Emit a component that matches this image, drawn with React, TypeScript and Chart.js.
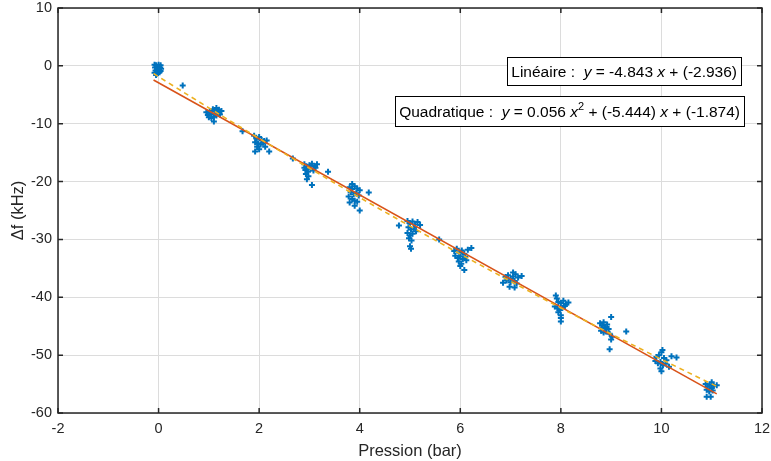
import React, { useEffect, useRef } from "react";
import { Chart, registerables } from "chart.js";

Chart.register(...registerables);

// Measured points (pressure in bar, frequency shift in kHz)
const pressureX: number[] = [
  // ~0 bar
  -0.08, -0.05, 0.0, 0.04, -0.07, -0.02, 0.03, -0.06, 0.0, 0.04, -0.08, -0.03, 0.02, -0.05, 0.05, 0.48,
  // ~1 bar
  0.95, 0.98, 1.02, 1.05, 1.08, 1.1, 1.12, 1.15, 1.18, 1.2, 1.22, 1.25, 1.05, 1.1, 1.0, 1.15, 1.67,
  // ~2 bar
  1.9, 1.95, 2.0, 2.05, 2.1, 2.15, 1.92, 1.98, 2.03, 2.08, 2.12, 1.96, 2.0, 1.92, 2.2,
  // ~3 bar
  2.9, 2.95, 3.0, 3.05, 3.1, 3.15, 2.92, 2.97, 3.02, 3.08, 2.93, 2.98, 2.95, 3.05, 3.12, 2.9, 3.37, 2.67,
  // ~4 bar
  3.8, 3.85, 3.9, 3.95, 4.0, 3.82, 3.88, 3.93, 3.98, 3.78, 3.85, 3.9, 3.8, 3.95, 3.9, 4.0, 3.85, 4.18, 4.78,
  // ~5 bar
  4.95, 5.0, 5.05, 5.1, 5.15, 5.2, 4.97, 5.02, 5.08, 5.12, 4.95, 5.0, 5.05, 4.98, 5.03, 5.0, 5.02, 5.58,
  // ~6 bar
  5.88, 5.93, 5.98, 6.03, 6.08, 6.15, 6.22, 5.9, 5.95, 6.0, 6.05, 6.1, 5.97, 6.02, 6.0, 6.08, 6.12,
  // ~7 bar
  6.9, 6.95, 7.0, 7.05, 7.1, 7.15, 7.22, 6.85, 6.92, 7.0, 7.08, 7.12, 6.98, 7.08, 7.05,
  // ~8 bar
  7.92, 7.95, 8.0, 8.05, 8.1, 8.15, 7.88, 7.93, 7.98, 8.03, 8.08, 7.95, 8.0, 8.0, 8.0, 7.9,
  // ~9 bar
  8.78, 8.82, 8.85, 8.88, 8.92, 8.95, 8.8, 8.85, 8.9, 8.97, 9.0, 9.02, 9.0, 8.97, 8.82, 9.3,
  // ~10 bar
  9.9, 9.95, 10.0, 10.02, 10.05, 10.1, 9.88, 9.93, 9.98, 10.03, 10.08, 10.2, 10.15, 9.98, 10.0, 10.3,
  // ~11 bar
  10.88, 10.92, 10.96, 11.0, 11.04, 11.1, 10.9, 10.95, 11.02, 10.9, 10.98, 11.0,
];

const deltaF: number[] = [
  0.2, 0.1, 0.2, 0.1, -0.3, -0.4, -0.3, -0.8, -0.7, -0.9, -1.2, -1.3, -1.1, -1.6, -0.5, -3.4,
  -8.0, -8.5, -7.8, -8.3, -7.5, -8.8, -7.9, -7.3, -8.1, -7.6, -8.4, -7.8, -9.0, -9.6, -8.9, -8.6, -11.3,
  -12.1, -12.6, -12.3, -12.8, -13.0, -12.9, -13.2, -13.4, -13.6, -13.3, -14.0, -14.0, -14.4, -14.8, -14.8,
  -17.0, -17.5, -17.2, -16.9, -17.3, -17.0, -18.0, -18.3, -17.8, -18.1, -18.7, -19.1, -19.6, -20.6, -17.6, -17.6, -18.3, -16.0,
  -21.0, -21.3, -20.8, -21.2, -21.5, -21.8, -22.2, -22.0, -22.4, -22.6, -23.0, -23.3, -23.6, -23.5, -24.2, -25.0, -20.4, -21.9, -27.6,
  -26.8, -27.2, -26.9, -27.4, -27.0, -27.5, -27.9, -28.3, -28.0, -28.6, -28.9, -29.3, -29.0, -29.8, -30.2, -31.2, -31.6, -30.0,
  -32.0, -31.6, -32.3, -31.9, -32.5, -31.8, -31.5, -32.8, -33.2, -32.9, -33.4, -33.0, -33.8, -34.2, -34.6, -35.3, -33.6,
  -36.5, -36.2, -36.8, -36.4, -36.0, -36.6, -36.3, -37.5, -37.1, -37.4, -37.2, -37.6, -38.2, -38.3, -35.7,
  -40.2, -40.8, -41.0, -40.6, -41.2, -40.9, -41.6, -41.9, -42.2, -41.8, -41.5, -42.6, -43.1, -43.6, -44.2, -39.7,
  -44.5, -44.9, -44.3, -45.2, -44.7, -45.5, -45.8, -46.1, -45.9, -46.3, -43.4, -46.8, -47.3, -49.0, -45.3, -45.9,
  -50.3, -50.0, -49.5, -49.1, -50.5, -50.9, -51.0, -51.4, -51.2, -51.7, -51.5, -50.2, -52.0, -52.3, -52.8, -50.4,
  -55.0, -55.4, -55.1, -55.7, -55.3, -55.2, -56.0, -56.3, -56.1, -57.2, -57.2, -54.7,
];

// Linear fit endpoints
const linearX: number[] = [-0.1, 11.1];
const linearY: number[] = [-2.452, -56.693];

// Quadratic fit samples
const quadX: number[] = [-0.1, 0, 1, 2, 3, 4, 5, 6, 7, 8, 9, 10, 11.1];
const quadY: number[] = [-1.329, -1.874, -7.262, -12.538, -17.702, -22.754, -27.694, -32.522, -37.238, -41.842, -46.334, -50.714, -55.402];

const xTicks: number[] = [-2, 0, 2, 4, 6, 8, 10, 12];
const yTicks: number[] = [10, 0, -10, -20, -30, -40, -50, -60];

const linearLabel = [
  { t: "Linéaire :  ", s: "n" },
  { t: "y", s: "i" },
  { t: " = -4.843 ", s: "n" },
  { t: "x", s: "i" },
  { t: " + (-2.936)", s: "n" },
];
const quadLabel = [
  { t: "Quadratique :  ", s: "n" },
  { t: "y", s: "i" },
  { t: " = 0.056 ", s: "n" },
  { t: "x", s: "i" },
  { t: "2", s: "sup" },
  { t: " + (-5.444) ", s: "n" },
  { t: "x", s: "i" },
  { t: " + (-1.874)", s: "n" },
];

const FONT = "'Liberation Sans', Arial, Helvetica, sans-serif";
const DARK = "#262626";

function drawLabelBox(ctx: CanvasRenderingContext2D, segs: { t: string; s: string }[], right: number, top: number, h: number) {
  const size = 15.5;
  const fontFor = (s: string) =>
    s === "i" ? `italic ${size}px ${FONT}` : s === "sup" ? `${Math.round(size * 0.72)}px ${FONT}` : `${size}px ${FONT}`;
  let w = 0;
  for (const sg of segs) {
    ctx.font = fontFor(sg.s);
    w += ctx.measureText(sg.t).width;
  }
  const padX = 4;
  const boxW = w + padX * 2;
  const left = right - boxW;
  ctx.save();
  ctx.fillStyle = "#ffffff";
  ctx.fillRect(left, top, boxW, h);
  ctx.strokeStyle = "#000000";
  ctx.lineWidth = 1;
  ctx.strokeRect(Math.round(left) + 0.5, Math.round(top) + 0.5, Math.round(boxW), h);
  ctx.fillStyle = "#000000";
  ctx.textBaseline = "alphabetic";
  ctx.textAlign = "left";
  let x = left + padX;
  const base = top + h / 2 + 5.5;
  for (const sg of segs) {
    ctx.font = fontFor(sg.s);
    const y = sg.s === "sup" ? base - 7 : base;
    ctx.fillText(sg.t, x, y);
    x += ctx.measureText(sg.t).width;
  }
  ctx.restore();
}

const framePlugin = {
  id: "frameAndLabels",
  afterDraw(chart: any) {
    const { ctx, chartArea, scales } = chart;
    const { left, right, top, bottom } = chartArea;
    ctx.save();
    ctx.strokeStyle = DARK;
    ctx.lineWidth = 1.5;
    ctx.strokeRect(left, top, right - left, bottom - top);
    const tl = 5;
    ctx.beginPath();
    for (const v of xTicks) {
      const px = scales.x.getPixelForValue(v);
      ctx.moveTo(px, bottom);
      ctx.lineTo(px, bottom - tl);
      ctx.moveTo(px, top);
      ctx.lineTo(px, top + tl);
    }
    for (const v of yTicks) {
      const py = scales.y.getPixelForValue(v);
      ctx.moveTo(left, py);
      ctx.lineTo(left + tl, py);
      ctx.moveTo(right, py);
      ctx.lineTo(right - tl, py);
    }
    ctx.stroke();
    ctx.restore();
    drawLabelBox(ctx, linearLabel, right - 21, top + 49, 28);
    drawLabelBox(ctx, quadLabel, right - 18, top + 88, 30);
  },
};

export default function App() {
  const ref = useRef<HTMLCanvasElement | null>(null);
  useEffect(() => {
    document.body.style.margin = "0";
    if (!ref.current) return;
    const points = pressureX.map((x, i) => ({ x, y: deltaF[i] }));
    const lin = linearX.map((x, i) => ({ x, y: linearY[i] }));
    const quad = quadX.map((x, i) => ({ x, y: quadY[i] }));
    const chart = new Chart(ref.current, {
      type: "scatter",
      data: {
        datasets: [
          {
            label: "Quadratique",
            data: quad,
            showLine: true,
            borderColor: "#EDB120",
            borderWidth: 1.6,
            borderDash: [5, 4],
            pointRadius: 0,
            tension: 0.4,
            order: 1,
          } as any,
          {
            label: "Linéaire",
            data: lin,
            showLine: true,
            borderColor: "#D95319",
            borderWidth: 1.6,
            pointRadius: 0,
            order: 2,
          } as any,
          {
            label: "Mesures",
            data: points,
            pointStyle: "cross",
            pointRadius: 3,
            borderColor: "#0072BD",
            backgroundColor: "#0072BD",
            borderWidth: 2,
            order: 3,
          } as any,
        ],
      },
      options: {
        animation: false,
        responsive: true,
        maintainAspectRatio: false,
        layout: { padding: { left: 0, top: 8, right: 9, bottom: 0 } },
        plugins: { legend: { display: false }, tooltip: { enabled: false } },
        scales: {
          x: {
            type: "linear",
            min: -2,
            max: 12,
            afterFit: (s: any) => {
              s.height = 48;
              s.paddingLeft = 0;
              s.paddingRight = 0;
            },
            afterBuildTicks: (s: any) => {
              s.ticks = xTicks.map((v) => ({ value: v }));
            },
            ticks: {
              color: DARK,
              font: { family: FONT, size: 14.5 },
              padding: 7,
              maxRotation: 0,
              autoSkip: false,
            },
            grid: { color: "#dcdcdc", lineWidth: 1, drawTicks: false },
            border: { display: false },
            title: {
              display: true,
              text: "Pression (bar)",
              color: DARK,
              font: { family: FONT, size: 16.5 },
              padding: { top: 2, bottom: 0 },
            },
          },
          y: {
            type: "linear",
            min: -60,
            max: 10,
            afterFit: (s: any) => {
              s.width = 58;
              s.paddingTop = 0;
              s.paddingBottom = 0;
            },
            afterBuildTicks: (s: any) => {
              s.ticks = yTicks.map((v) => ({ value: v }));
            },
            ticks: {
              color: DARK,
              font: { family: FONT, size: 14.5 },
              padding: 6,
              autoSkip: false,
            },
            grid: { color: "#dcdcdc", lineWidth: 1, drawTicks: false },
            border: { display: false },
            title: {
              display: true,
              text: "Δf (kHz)",
              color: DARK,
              font: { family: FONT, size: 16.5 },
              padding: { top: 9, bottom: 0 },
            },
          },
        },
      },
      plugins: [framePlugin],
    } as any);
    return () => chart.destroy();
  }, []);
  return (
    <div style={{ width: 771, height: 461, position: "relative", background: "#fff" }}>
      <canvas ref={ref} />
    </div>
  );
}
